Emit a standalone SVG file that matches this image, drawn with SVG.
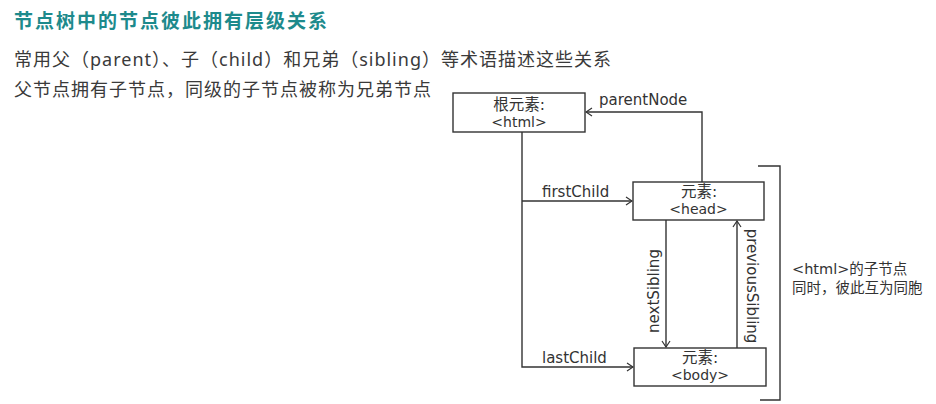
<svg xmlns="http://www.w3.org/2000/svg" width="936" height="404" viewBox="0 0 936 404">
<defs>
<style>
.hd{font-family:"Noto Sans","Noto Sans CJK SC",sans-serif;}
.title{font-size:19px;font-weight:bold;fill:#1d8a8c;letter-spacing:2px;}
.sub{font-size:18px;fill:#3a3a3a;letter-spacing:1px;}
.lbl{font-family:"DejaVu Sans","Noto Sans CJK SC",sans-serif;font-size:15px;fill:#333;}
.bx{font-family:"DejaVu Sans","Noto Sans CJK SC",sans-serif;font-size:14px;fill:#333;text-anchor:middle;}
.bxc{font-size:15.5px;}
.side{font-family:"DejaVu Sans","Noto Sans CJK SC",sans-serif;font-size:14.5px;fill:#333;}
.box{fill:#fff;stroke:#333;stroke-width:1.4;}
.ln{fill:none;stroke:#333;stroke-width:1.4;}
</style>
<marker id="ar" markerWidth="8" markerHeight="10" refX="7" refY="5" orient="auto" markerUnits="userSpaceOnUse">
<path d="M1,1 L7,5 L1,9" fill="none" stroke="#333" stroke-width="1.2"/>
</marker>
</defs>
<rect width="936" height="404" fill="#fff"/>
<g id="header">
<text class="hd title" x="14" y="28">节点树中的节点彼此拥有层级关系</text>
<text class="hd sub" x="14" y="66">常用父（parent）、子（child）和兄弟（sibling）等术语描述这些关系</text>
<text class="hd sub" x="14" y="96">父节点拥有子节点，同级的子节点被称为兄弟节点</text>
</g>
<g id="connectors">
<path class="ln" d="M702,182 V112 H586" marker-end="url(#ar)"/>
<path class="ln" d="M522,132 V367 H633" marker-end="url(#ar)"/>
<path class="ln" d="M522,201 H632" marker-end="url(#ar)"/>
<path class="ln" d="M666,220 V347" marker-end="url(#ar)"/>
<path class="ln" d="M737,348 V221" marker-end="url(#ar)"/>
<text class="lbl" x="599" y="105">parentNode</text>
<text class="lbl" x="542" y="197">firstChild</text>
<text class="lbl" x="542" y="363">lastChild</text>
<text class="lbl" transform="translate(659,291) rotate(-90)" text-anchor="middle">nextSibling</text>
<text class="lbl" transform="translate(747,286) rotate(90)" text-anchor="middle">previousSibling</text>
</g>
<g id="node-html">
<rect class="box" x="453" y="93" width="132" height="39"/>
<text class="bx bxc" x="519" y="110">根元素:</text>
<text class="bx" x="519" y="127">&lt;html&gt;</text>
</g>
<g id="node-head">
<rect class="box" x="633" y="182" width="131" height="38"/>
<text class="bx bxc" x="699" y="197">元素:</text>
<text class="bx" x="698.5" y="214">&lt;head&gt;</text>
</g>
<g id="node-body">
<rect class="box" x="634" y="348" width="132" height="38"/>
<text class="bx bxc" x="700" y="363">元素:</text>
<text class="bx" x="700" y="380">&lt;body&gt;</text>
</g>
<g id="bracket">
<path class="ln" d="M758,166 H780 V400 H760"/>
<text class="side" x="792" y="274">&lt;html&gt;的子节点</text>
<text class="side" x="792" y="293">同时，彼此互为同胞</text>
</g>
</svg>
